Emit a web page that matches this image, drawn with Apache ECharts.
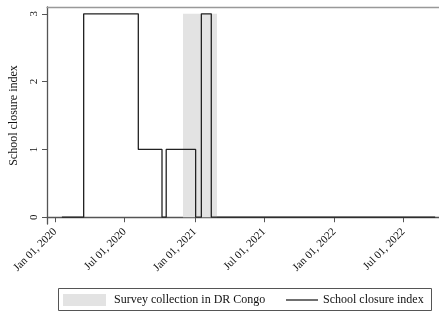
<!DOCTYPE html>
<html>
<head>
<meta charset="utf-8">
<script src="https://cdn.jsdelivr.net/npm/echarts@6/dist/echarts.min.js"></script>
<style>
  html, body { margin: 0; padding: 0; background: #fff; }
  #main { width: 439px; height: 314px; }
</style>
</head>
<body>
<div id="main"></div>
<script>
// step points: value holds from this date until the next one
var closureDates = ['2020-01-19', '2020-03-16', '2020-08-06', '2020-10-07', '2020-10-18',
                    '2021-01-03', '2021-01-18', '2021-02-13', '2022-09-22'];
var closureValues = [0, 3, 1, 0, 1, 0, 3, 0, 0];

// survey collection window in DR Congo
var surveyStart = '2020-12-01';
var surveyEnd = '2021-02-28';

var tickDates = ['2020-01-01', '2020-07-01', '2021-01-01', '2021-07-01', '2022-01-01', '2022-07-01'];
var yTicks = [0, 1, 2, 3];

var serif = 'Liberation Serif';
var months = ['Jan', 'Feb', 'Mar', 'Apr', 'May', 'Jun', 'Jul', 'Aug', 'Sep', 'Oct', 'Nov', 'Dec'];

function ts(s) {
    var p = s.split('-');
    return Date.UTC(+p[0], +p[1] - 1, +p[2]);
}

var myChart = echarts.init(document.getElementById('main'), null, {renderer: 'canvas'});

var lineData = closureDates.map(function (d, i) {
    return [ts(d), closureValues[i]];
});

var xMin = ts('2019-12-11'), xMax = ts('2022-10-02');

var option = {
    animation: false,
    grid: {left: 45, right: 0, top: 7, bottom: 90},
    xAxis: [{
        type: 'value',
        min: xMin,
        max: xMax,
        axisLine: {show: true, lineStyle: {color: '#555', width: 1.3}},
        axisTick: {
            show: true, length: 5,
            customValues: tickDates.map(ts),
            lineStyle: {color: '#555'}
        },
        splitLine: {show: false},
        axisLabel: {
            rotate: 45,
            margin: 6,
            fontFamily: serif,
            fontSize: 11,
            color: '#111',
            customValues: tickDates.map(ts),
            formatter: function (v) {
                var d = new Date(v);
                var day = d.getUTCDate();
                return months[d.getUTCMonth()] + ' ' + (day < 10 ? '0' + day : day) + ', ' + d.getUTCFullYear();
            }
        }
    }, {
        // top frame line
        type: 'value',
        position: 'top',
        min: xMin,
        max: xMax,
        axisLine: {show: true, lineStyle: {color: '#999', width: 1.3}},
        axisTick: {show: false},
        axisLabel: {show: false},
        splitLine: {show: false}
    }],
    yAxis: {
        type: 'value',
        min: -0.1,
        max: 3.1,
        name: 'School closure index',
        nameLocation: 'middle',
        nameGap: 27,
        nameTextStyle: {fontFamily: serif, fontSize: 12, color: '#111'},
        axisLine: {show: true, lineStyle: {color: '#555', width: 1.3}},
        axisTick: {show: true, length: 5, customValues: yTicks, lineStyle: {color: '#555'}},
        splitLine: {show: false},
        axisLabel: {
            rotate: 90,
            margin: 7,
            fontFamily: serif,
            fontSize: 11,
            color: '#111',
            customValues: yTicks
        }
    },
    legend: [{
        left: 63,
        top: 294,
        padding: 0,
        itemWidth: 43,
        itemHeight: 12,
        itemGap: 0,
        textStyle: {fontFamily: serif, fontSize: 12, color: '#111', padding: [0, 0, 0, 3]},
        data: [{name: 'Survey collection in DR Congo', icon: 'rect', itemStyle: {color: '#e3e3e3'}}]
    }, {
        left: 286,
        top: 294,
        padding: 0,
        itemWidth: 32,
        itemHeight: 1.3,
        itemGap: 0,
        textStyle: {fontFamily: serif, fontSize: 12, color: '#111', padding: [0, 0, 0, 0]},
        data: [{name: 'School closure index', icon: 'rect', itemStyle: {color: '#222'}}]
    }],
    graphic: [{
        type: 'rect',
        shape: {x: 58.5, y: 288.5, width: 373, height: 22},
        style: {fill: null, stroke: '#555', lineWidth: 1},
        silent: true
    }],
    series: [{
        name: 'Survey collection in DR Congo',
        type: 'line',
        data: [],
        itemStyle: {color: '#e3e3e3'},
        markArea: {
            silent: true,
            itemStyle: {color: '#e3e3e3'},
            data: [[{xAxis: ts(surveyStart), yAxis: 0}, {xAxis: ts(surveyEnd), yAxis: 3}]]
        }
    }, {
        name: 'School closure index',
        type: 'line',
        step: 'end',
        symbol: 'none',
        data: lineData,
        lineStyle: {color: '#222', width: 1.3},
        itemStyle: {color: '#222'},
        z: 3
    }]
};

myChart.setOption(option);
</script>
</body>
</html>
